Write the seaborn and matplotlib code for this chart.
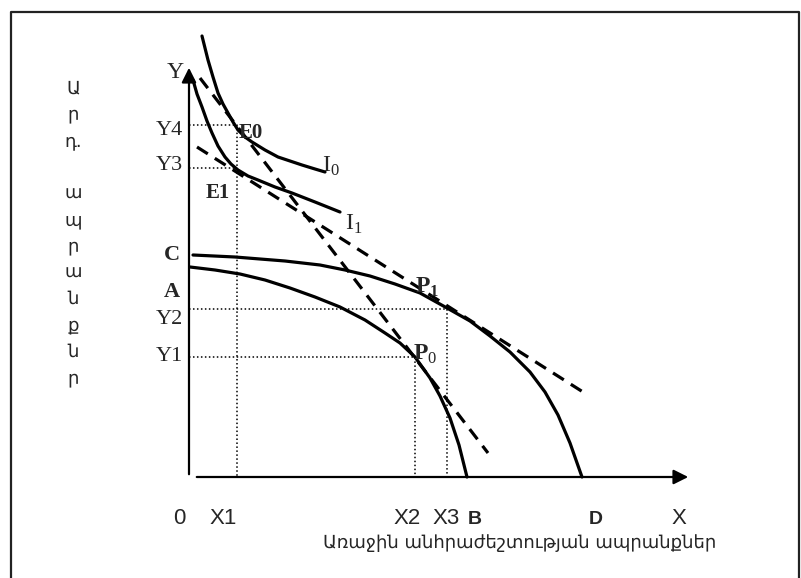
"""
Production possibility frontiers (A-B, C-D) and indifference curves (I0, I1)
with the two price lines, redrawn with seaborn / matplotlib.
"""

import matplotlib
matplotlib.use("Agg")
import matplotlib.pyplot as plt
import seaborn as sns

sns.set_style("white")
plt.rcParams['font.family'] = ['DejaVu Sans']
plt.rcParams['mathtext.fontset'] = 'custom'
plt.rcParams['mathtext.rm'] = 'Liberation Serif'
plt.rcParams['mathtext.bf'] = 'Liberation Serif:bold'

# ---- data (arbitrary units) ----
# indifference curve I0
i0_x = [1.3, 1.6, 1.9, 2.4, 2.9, 3.4, 3.9, 4.4, 4.9, 5.6, 6.3, 7.6, 8.9, 10.1, 11.3, 12.6, 13.6]
i0_y = [44.1, 42.9, 41.7, 40.0, 38.4, 37.3, 36.4, 35.5, 34.7, 34.0, 33.5, 32.7, 32.0, 31.6, 31.2, 30.8, 30.5]
# indifference curve I1
i1_x = [0.4, 0.8, 1.3, 1.8, 2.3, 2.9, 3.6, 4.2, 4.9, 5.9, 6.9, 8.6, 10.3, 12.6, 15.1]
i1_y = [39.7, 38.3, 37.0, 35.6, 34.4, 33.1, 32.0, 31.3, 30.7, 30.1, 29.7, 29.0, 28.4, 27.5, 26.5]
# outer frontier C - D
cd_x = [0.4, 4.6, 9.6, 13.1, 15.6, 18.1, 20.6, 23.1, 25.8, 28.1, 30.1, 32.1, 34.1, 35.6, 36.9, 38.1, 39.3]
cd_y = [22.2, 22.0, 21.6, 21.2, 20.7, 20.1, 19.3, 18.4, 16.9, 15.6, 14.1, 12.5, 10.5, 8.5, 6.2, 3.4, 0.0]
# inner frontier A - B
ab_x = [0.1, 2.6, 5.1, 7.6, 10.1, 12.6, 15.1, 17.6, 19.6, 21.1, 22.6, 24.1, 25.1, 26.1, 27.0, 27.8]
ab_y = [21.0, 20.7, 20.3, 19.7, 18.9, 18.0, 17.0, 15.7, 14.4, 13.4, 12.0, 9.9, 8.1, 5.9, 3.2, 0.0]
# price lines (dashed)
steep_x = [1.1, 29.9]
steep_y = [39.9, 2.4]
flat_x = [0.8, 39.4]
flat_y = [33.0, 8.5]

# equilibrium points
X1, X2, X3 = 4.8, 22.6, 25.8
Y1, Y2, Y3, Y4 = 12.0, 16.8, 30.9, 35.2

# axis letters
vertical_label = ['Ա', 'ր', 'դ.', '', 'ա', 'պ', 'ր', 'ա', 'ն', 'ք', 'ն', 'ր']
caption = 'Առաջին անհրաժեշտության ապրանքներ'

fig = plt.figure(figsize=(8.01, 5.78), dpi=100)
ax = fig.add_axes([0, 0, 1, 1])
ax.set_xlim(-18.9, 61.2)
ax.set_ylim(-10.1, 47.7)
ax.axis('off')

# outer frame (open at the bottom)
ax.plot([-17.8, -17.8, 61.0, 61.0], [-15, 46.5, 46.5, -15], color='#222222', lw=1.6)

# axes with arrows
ax.annotate('', xy=(50.2, 0), xytext=(0.5, 0),
            arrowprops=dict(arrowstyle='-|>', lw=1.6, color='black', mutation_scale=22))
ax.annotate('', xy=(0, 41.2), xytext=(0, 0),
            arrowprops=dict(arrowstyle='-|>', lw=1.6, color='black', mutation_scale=22))

# dotted guides
dot = dict(color='black', lw=1.1, ls=(0, (1, 1.6)))
ax.plot([0, X1, X1], [Y4, Y4, 0], **dot)
ax.plot([0, X1], [Y3, Y3], **dot)
ax.plot([0, X3, X3], [Y2, Y2, 0], **dot)
ax.plot([0, X2, X2], [Y1, Y1, 0], **dot)

# curves
for xs, ys in [(i0_x, i0_y), (i1_x, i1_y), (cd_x, cd_y), (ab_x, ab_y)]:
    sns.lineplot(x=xs, y=ys, color='black', linewidth=2.3, sort=False,
                 estimator=None, ax=ax)
for xs, ys in [(steep_x, steep_y), (flat_x, flat_y)]:
    sns.lineplot(x=xs, y=ys, color='black', linewidth=2.3, sort=False,
                 estimator=None, linestyle=(0, (4, 2.6)), ax=ax)

# left (serif) labels
serif = 'Liberation Serif'
ax.text(-1.4, 40.5, 'Y', family=serif, fontsize=17, ha='center', va='center')
for lab, yv in [('Y4', Y4 - 0.5), ('Y3', Y3 + 0.3), ('Y2', Y2 - 1.0), ('Y1', Y1 + 0.1)]:
    ax.text(-0.6, yv, lab, family=serif, fontsize=16, ha='right', va='center')
ax.text(-0.9, 22.2, 'C', family=serif, fontsize=16, fontweight='bold', ha='right', va='center')
ax.text(-0.9, 18.5, 'A', family=serif, fontsize=16, fontweight='bold', ha='right', va='center')

# point / curve labels
ax.text(X1 + 0.2, 34.4, 'E0', family=serif, fontsize=15, fontweight='bold', ha='left', va='center')
ax.text(2.9, 28.4, 'E1', family=serif, fontsize=15, fontweight='bold', ha='center', va='center')
ax.text(13.3, 31.1, r'$\mathrm{I}_{\mathrm{0}}$', fontsize=17, ha='left', va='center')
ax.text(15.6, 25.3, r'$\mathrm{I}_{\mathrm{1}}$', fontsize=17, ha='left', va='center')
ax.text(22.6, 19.0, r'$\mathbf{P}_{\mathbf{1}}$', fontsize=17, ha='left', va='center')
ax.text(22.4, 12.3, r'$\mathbf{P}_{\mathrm{0}}$', fontsize=17, ha='left', va='center')

# bottom (sans) labels
sans = 'Liberation Sans'
for lab, xv in [('0', -1.0), ('X1', 3.4), ('X2', 21.8), ('X3', 25.7), ('X', 49.0)]:
    ax.text(xv, -4.2, lab, family=sans, fontsize=16, ha='center', va='center')
ax.text(28.6, -4.3, 'B', family=sans, fontsize=14, fontweight='bold', ha='center', va='center')
ax.text(40.7, -4.3, 'D', family=sans, fontsize=14, fontweight='bold', ha='center', va='center')

ax.text(52.7, -6.6, caption, fontsize=13, ha='right', va='center')

# vertical Armenian axis title, one letter per line
for i, ch in enumerate(vertical_label):
    ax.text(-11.6, 38.9 - i * 2.64, ch, fontsize=13, ha='center', va='center')

fig.savefig('out.png', dpi=100, facecolor='white')
